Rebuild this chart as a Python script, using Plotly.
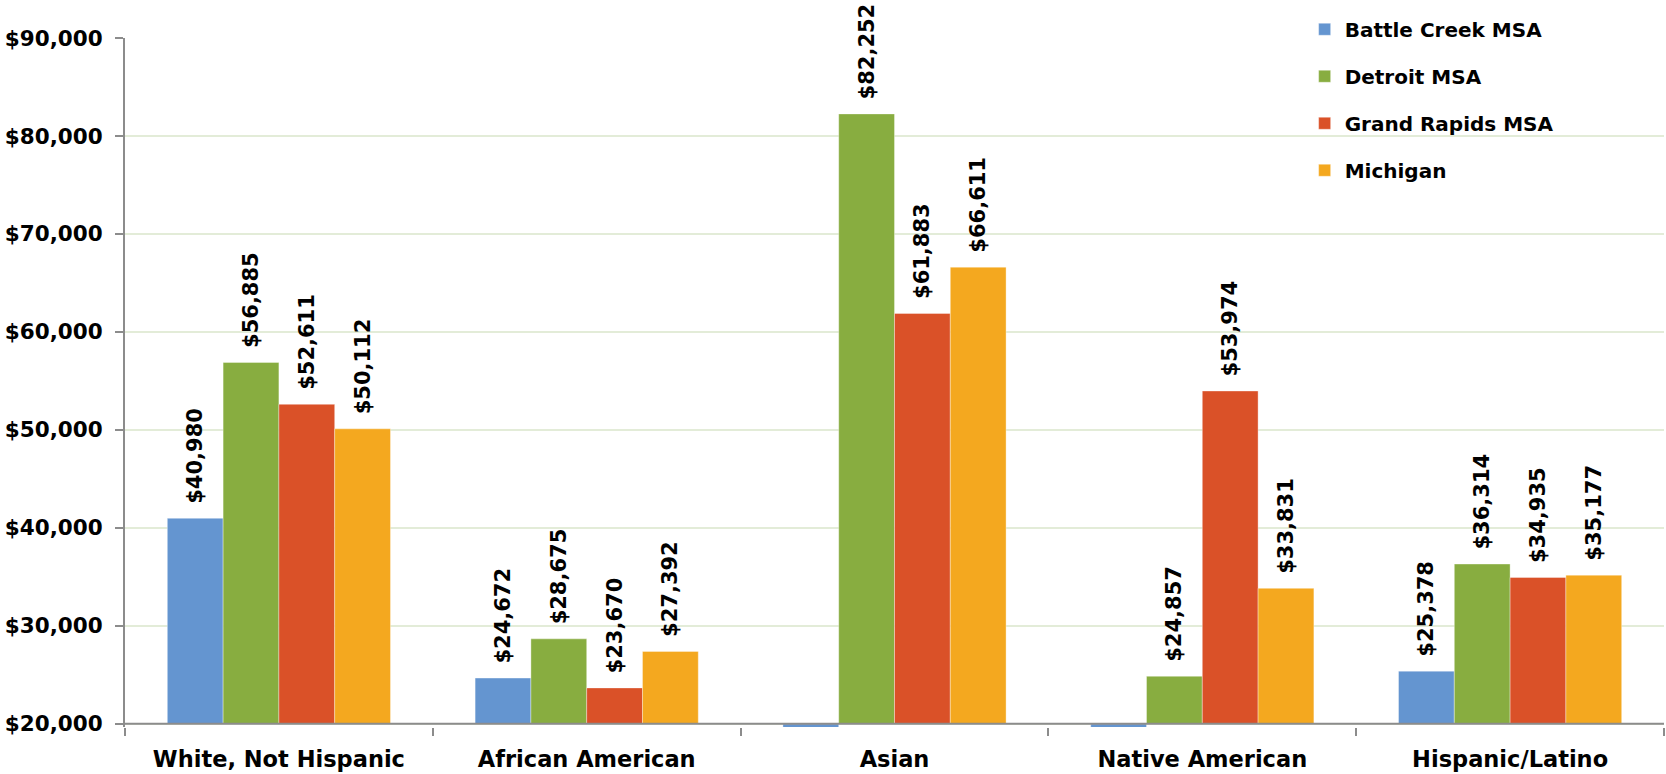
import plotly.graph_objects as go

categories = ["White, Not Hispanic", "African American", "Asian", "Native American", "Hispanic/Latino"]
series_names = ["Battle Creek MSA", "Detroit MSA", "Grand Rapids MSA", "Michigan"]
battle_creek = [40980, 24672, 0, 0, 25378]
detroit = [56885, 28675, 82252, 24857, 36314]
grand_rapids = [52611, 23670, 61883, 53974, 34935]
michigan = [50112, 27392, 66611, 33831, 35177]

colors = ["#6495D0", "#88AD40", "#DA5128", "#F4A81F"]
FONT = "DejaVu Sans"
AXIS_MIN = 20000
PAD = "\u00a0\u2009"  # small gap between bar top and rotated label

fig = go.Figure()
for name, vals, col in zip(series_names, [battle_creek, detroit, grand_rapids, michigan], colors):
    fig.add_trace(
        go.Bar(
            name=name,
            legendgroup=name,
            x=categories,
            y=[v - AXIS_MIN for v in vals],
            base=AXIS_MIN,
            marker=dict(color=col, line=dict(color="rgba(255,255,255,0.6)", width=0.6)),
            text=[f"{PAD}${v:,}" if v else "" for v in vals],
            textposition="outside",
            textangle=-90,
            constraintext="none",
            cliponaxis=False,
            textfont=dict(family=FONT, size=21, color="#000000", weight="bold"),
        )
    )

fig.update_layout(
    width=1666,
    height=774,
    barmode="group",
    bargap=0.275,
    bargroupgap=0,
    paper_bgcolor="white",
    plot_bgcolor="white",
    font=dict(family=FONT, color="#000000"),
    margin=dict(l=125, r=2, t=38, b=47, autoexpand=False),
    showlegend=True,
    legend=dict(
        x=0.7665,
        y=1.041,
        xanchor="left",
        yanchor="top",
        bgcolor="rgba(0,0,0,0)",
        font=dict(family=FONT, size=20, weight="bold"),
        tracegroupgap=18,
        itemwidth=30,
    ),
    xaxis=dict(
        showline=False,
        ticks="outside",
        tickson="boundaries",
        ticklen=8,
        tickcolor="#8c8c8c",
        tickwidth=1.5,
        showgrid=False,
        ticklabelstandoff=16,
        tickfont=dict(family=FONT, size=22.5, weight="bold"),
    ),
    yaxis=dict(
        range=[19680, 90000],
        dtick=10000,
        tickprefix="$",
        tickformat=",",
        showline=True,
        linecolor="#8c8c8c",
        linewidth=2,
        ticks="outside",
        ticklen=8,
        tickcolor="#8c8c8c",
        tickwidth=1.5,
        showgrid=True,
        gridcolor="#E3ECD8",
        gridwidth=1.5,
        zeroline=False,
        ticklabelstandoff=8,
        tickfont=dict(family=FONT, size=21.5, weight="bold"),
    ),
)

fig.add_shape(
    type="line", xref="paper", yref="y", x0=0, x1=1, y0=AXIS_MIN, y1=AXIS_MIN,
    line=dict(color="#8c8c8c", width=2), layer="above",
)

# drop the default page margin so the figure fills the window exactly
fig.write_html(
    "out.html",
    config={"displayModeBar": False},
    post_script="document.body.style.margin='0';",
)
